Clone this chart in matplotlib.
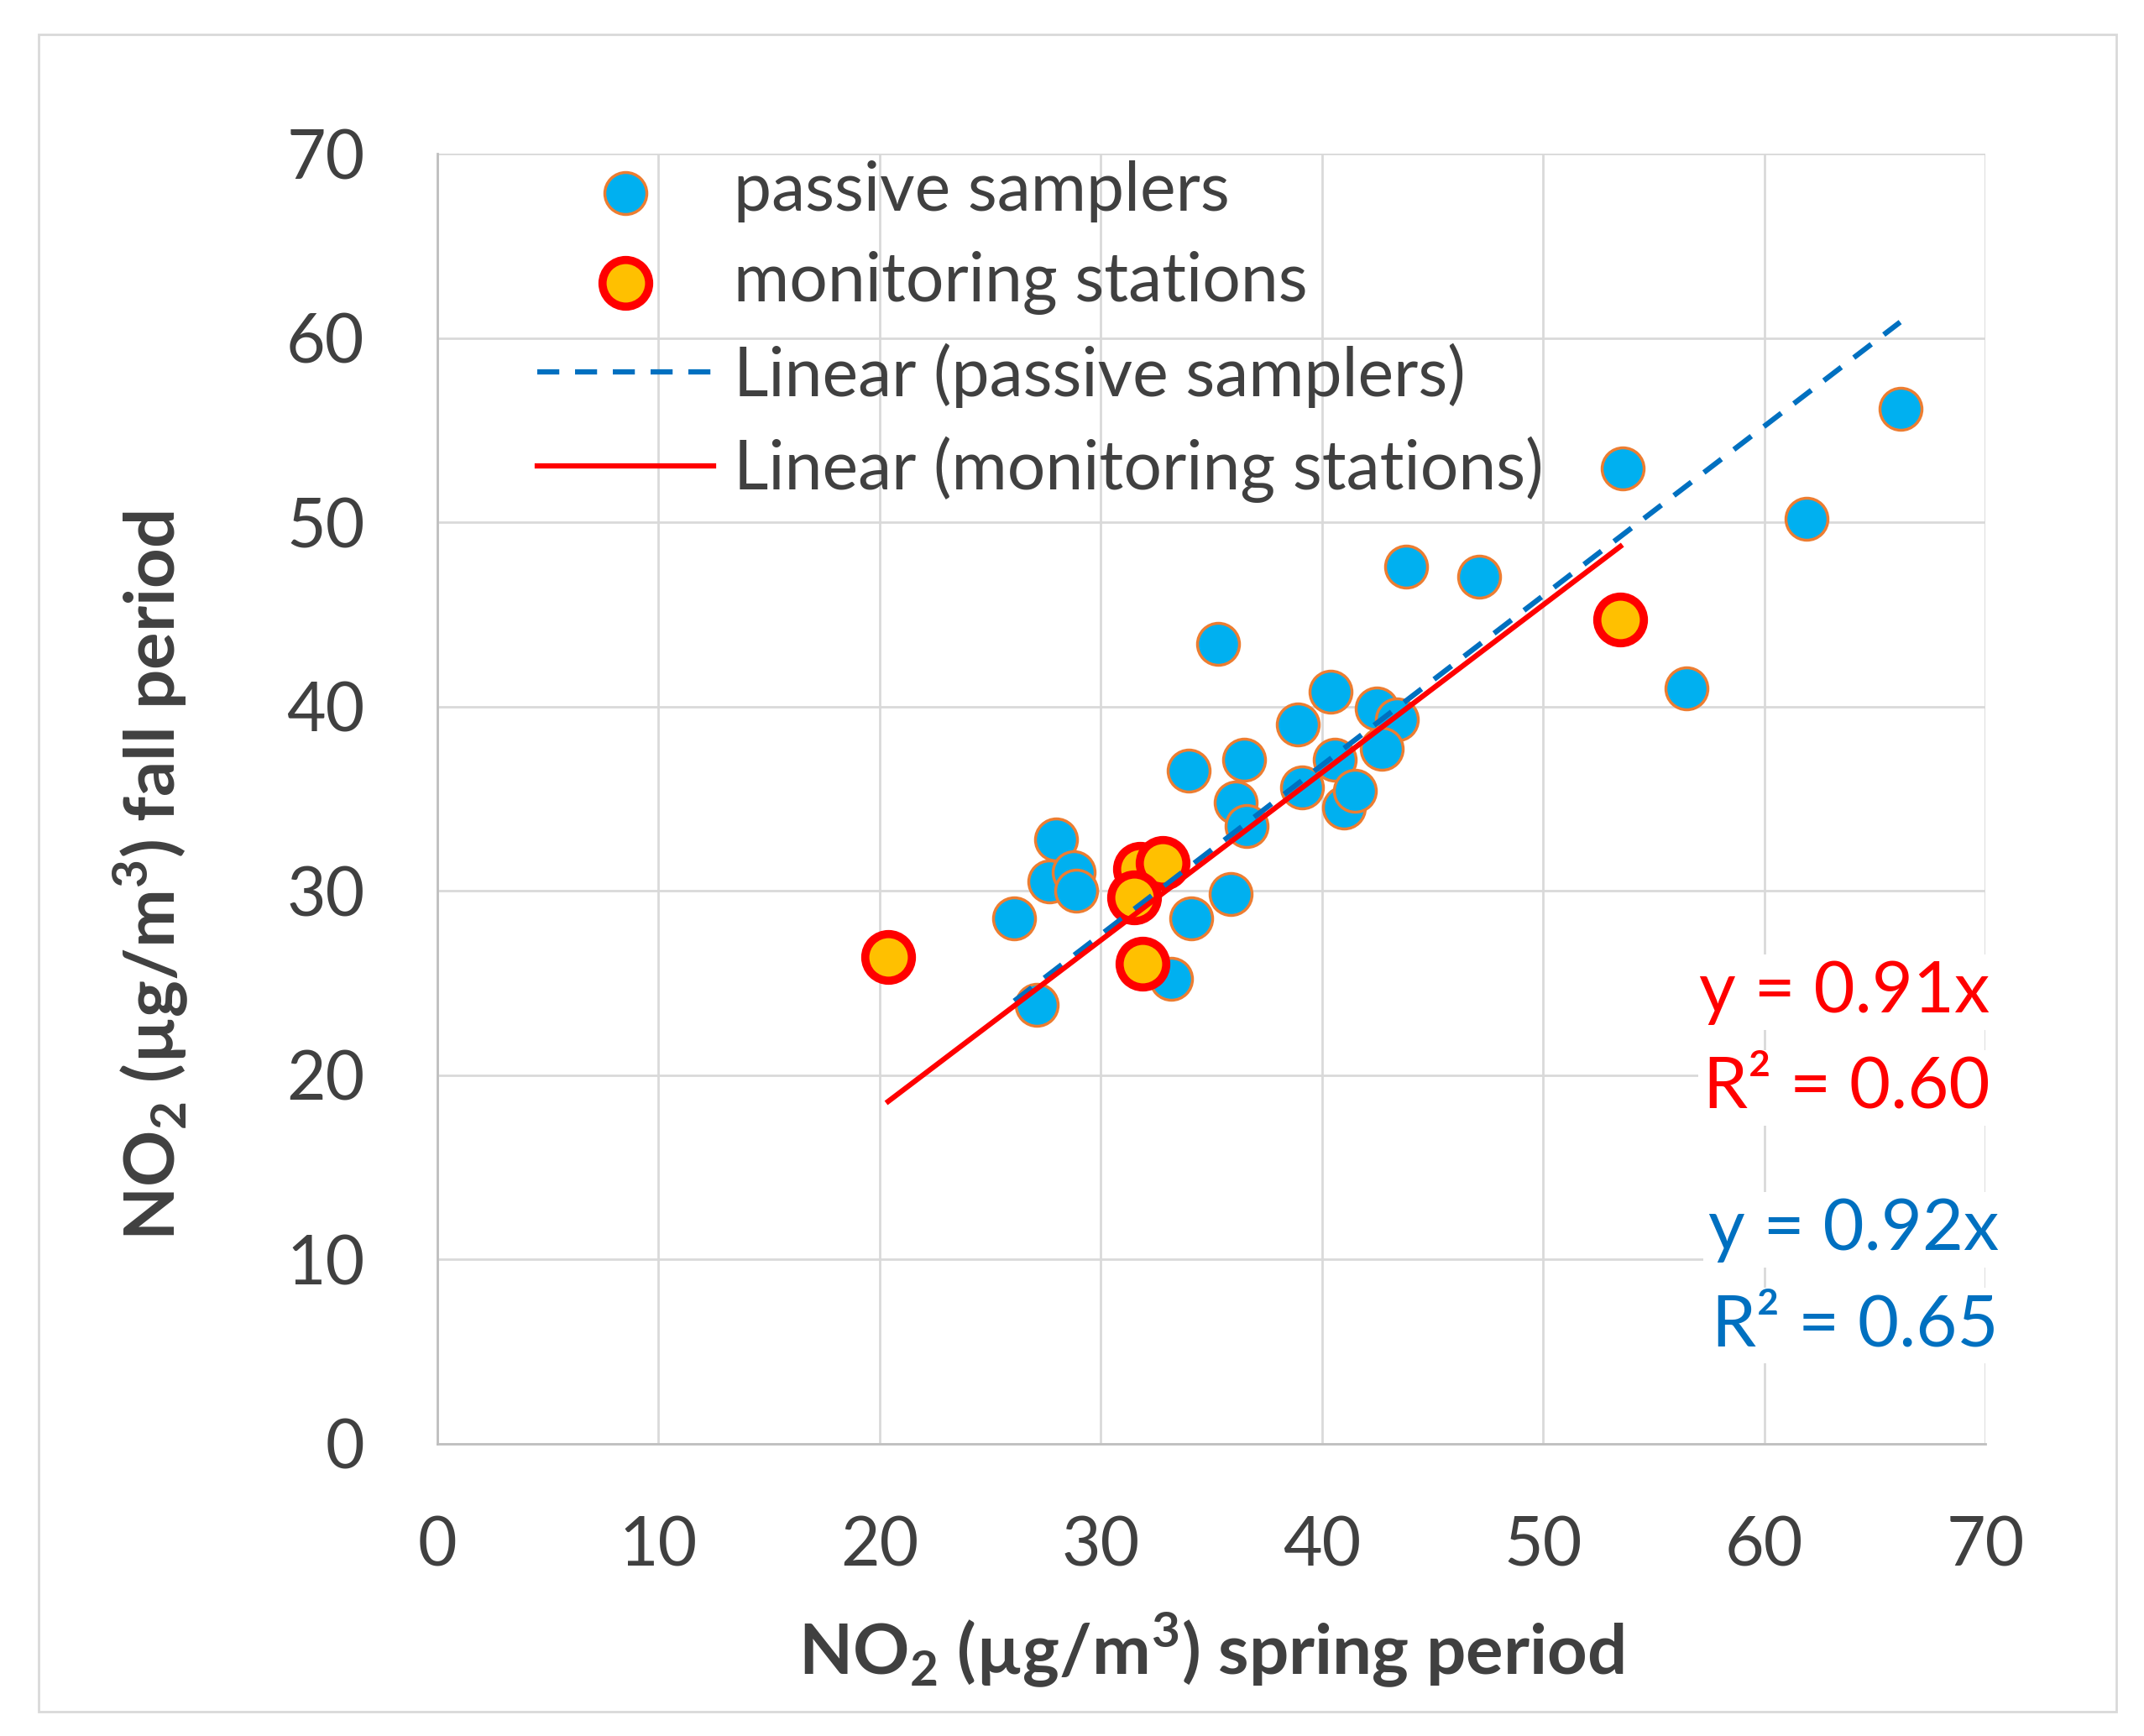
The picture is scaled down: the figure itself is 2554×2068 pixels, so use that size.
"""Scatter of NO2 spring vs fall with through-origin trend lines."""

import matplotlib
matplotlib.use("Agg")
import matplotlib.pyplot as plt
import numpy as np

plt.rcParams["font.family"] = ["Lato", "DejaVu Sans"]
plt.rcParams["mathtext.fontset"] = "custom"
plt.rcParams["mathtext.rm"] = "Lato"
plt.rcParams["mathtext.bf"] = "Lato:bold"

# passive samplers (spring, fall)
passive_spring = [66.15, 61.9, 56.5, 53.6, 47.1, 43.8, 35.3, 40.4, 38.9, 42.5,
                  43.4, 42.7, 40.6, 34.0, 36.5, 36.1, 36.6, 39.1, 41.0, 41.5,
                  28.0, 27.7, 28.8, 28.9, 26.1, 34.1, 35.9, 33.2, 27.1]
passive_fall = [56.15, 50.2, 41.0, 52.9, 47.05, 47.6, 43.4, 40.8, 39.0, 39.9,
                39.3, 37.7, 37.1, 36.5, 37.1, 34.8, 33.5, 35.6, 34.5, 35.4,
                32.8, 30.5, 31.0, 30.0, 28.5, 28.5, 29.8, 25.2, 23.8]

# monitoring stations (spring, fall)
station_spring = [31.8, 32.8, 31.5, 31.9, 20.4, 53.5]
station_fall = [31.2, 31.5, 29.65, 26.05, 26.4, 44.7]

slope_passive = 0.92
r2_passive = 0.65
slope_station = 0.91
r2_station = 0.60

ticks = list(range(0, 71, 10))

BLUE_FILL = "#00B0F0"
ORANGE_EDGE = "#ED7D31"
GOLD_FILL = "#FFC000"
RED = "#FF0000"
DARK_BLUE = "#0070C0"
TEXT = "#404040"

fig = plt.figure(figsize=(25.54, 20.68), dpi=100)
ax = fig.add_axes([0.2038, 0.1685, 0.7222, 0.7430])

# outer frame
fig.patches.append(plt.Rectangle((0.018, 0.014), 0.969, 0.966,
                                 transform=fig.transFigure, fill=False,
                                 edgecolor="#d9d9d9", linewidth=2))

ax.scatter(passive_spring, passive_fall, s=36**2, color=BLUE_FILL,
           edgecolors=ORANGE_EDGE, linewidths=2.5, zorder=3,
           label="passive samplers")
ax.scatter(station_spring, station_fall, s=40**2, color=GOLD_FILL,
           edgecolors=RED, linewidths=7, zorder=4,
           label="monitoring stations")

xp = np.array([min(passive_spring), max(passive_spring)])
ax.plot(xp, slope_passive * xp, color=DARK_BLUE, linestyle=(0, (4.2, 3.0)),
        linewidth=4.5, zorder=5, label="Linear (passive samplers)")
xs = np.array([min(station_spring), max(station_spring)])
ax.plot(xs, slope_station * xs, color=RED, linewidth=4.5, zorder=5,
        label="Linear (monitoring stations)")

ax.set_xlim(0, 70)
ax.set_ylim(0, 70)
ax.set_xticks(ticks)
ax.set_yticks(ticks)
ax.grid(True, color="#d9d9d9", linewidth=2)
ax.set_axisbelow(True)
for side in ("top", "right"):
    ax.spines[side].set_visible(False)
for side in ("left", "bottom"):
    ax.spines[side].set_color("#bfbfbf")
    ax.spines[side].set_linewidth(2)
ax.tick_params(length=0, labelsize=58, labelcolor=TEXT)
ax.tick_params(axis="x", pad=62)
ax.tick_params(axis="y", pad=62)

ax.set_xlabel(r"NO$_\mathbf{2}$ (µg/m$^\mathbf{3}$) spring period",
              fontsize=60, fontweight="bold", color=TEXT, va="center")
ax.xaxis.set_label_coords(0.5, -0.16)
ax.set_ylabel(r"NO$_\mathbf{2}$ (µg/m$^\mathbf{3}$) fall period",
              fontsize=60, fontweight="bold", color=TEXT, va="center")
ax.yaxis.set_label_coords(-0.185, 0.44)

box = dict(facecolor="white", edgecolor="none", pad=4)
ax.text(70.2, 24.5, f"y = {slope_station:.2f}x", color=RED, fontsize=61,
        ha="right", va="center", bbox=box, clip_on=False, zorder=6)
ax.text(70.2, 19.3, f"R² = {r2_station:.2f}", color=RED, fontsize=61,
        ha="right", va="center", bbox=box, clip_on=False, zorder=6)
ax.text(70.6, 11.6, f"y = {slope_passive:.2f}x", color=DARK_BLUE, fontsize=61,
        ha="right", va="center", bbox=box, clip_on=False, zorder=6)
ax.text(70.6, 6.4, f"R² = {r2_passive:.2f}", color=DARK_BLUE, fontsize=61,
        ha="right", va="center", bbox=box, clip_on=False, zorder=6)

leg = ax.legend(loc="upper left", bbox_to_anchor=(0.065, 0.995), frameon=False,
                fontsize=58, handlelength=2.6, handletextpad=0.3,
                labelspacing=0.42, borderpad=0, borderaxespad=0,
                scatterpoints=1, labelcolor=TEXT)

fig.savefig("out.png", dpi=100)
